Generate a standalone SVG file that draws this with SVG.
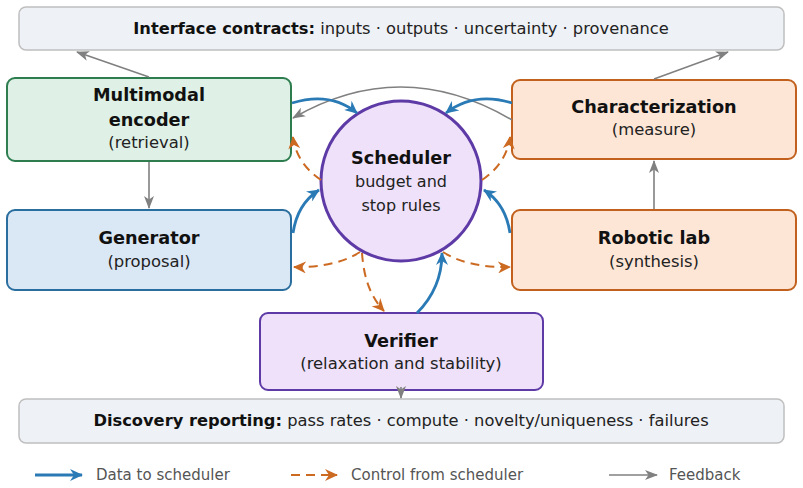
<svg xmlns="http://www.w3.org/2000/svg" width="803" height="488" viewBox="0 0 803 488">
<style>
text{font-family:"DejaVu Sans","Liberation Sans",sans-serif;fill:#111;}
.b{font-weight:bold;font-size:17.7px;}
.r{font-size:16.4px;fill:#222;}
.bb{font-weight:bold;font-size:16.3px;}
.br{font-size:16.3px;fill:#222;}
.bar{fill:#eef1f5;stroke:#bfbfbf;stroke-width:1.5;}
.green{fill:#dff1e6;stroke:#2e7d4f;stroke-width:2;}
.blue{fill:#dae7f4;stroke:#2a6e9f;stroke-width:2;}
.orange{fill:#fde6d6;stroke:#c2611d;stroke-width:2;}
.purple{fill:#eee1f9;stroke:#5e3aa6;stroke-width:2;}
.data{fill:none;stroke:#2a7ab6;stroke-width:2.8;}
.ctrl{fill:none;stroke:#cc6a22;stroke-width:2;stroke-dasharray:9 6;}
.fb{fill:none;stroke:#808080;stroke-width:1.6;}
.leg{font-size:15px;fill:#555;}
</style>
<defs>
<marker id="mData" markerUnits="userSpaceOnUse" markerWidth="14" markerHeight="12" refX="12" refY="6" orient="auto">
<path d="M0,0 L13,6 L0,12 L4,6 z" fill="#2a7ab6"/>
</marker>
<marker id="mCtrl" markerUnits="userSpaceOnUse" markerWidth="14" markerHeight="12" refX="12" refY="6" orient="auto">
<path d="M0,0 L13,6 L0,12 L4,6 z" fill="#cc6a22"/>
</marker>
<marker id="mFb" markerUnits="userSpaceOnUse" markerWidth="14" markerHeight="10" refX="12" refY="5" orient="auto">
<path d="M0,0 L13,5 L0,10 L3.5,5 z" fill="#808080"/>
</marker>
</defs>

<g id="interface-contracts">
<rect class="bar" x="19" y="7" width="765" height="43" rx="7"/>
<text x="401" y="34" text-anchor="middle"><tspan class="bb">Interface contracts:</tspan><tspan class="br"> inputs · outputs · uncertainty · provenance</tspan></text>
</g>

<g id="multimodal-encoder">
<rect class="green" x="7" y="78" width="284" height="83" rx="8"/>
<text class="b" x="149" y="101" text-anchor="middle">Multimodal</text>
<text class="b" x="149" y="126" text-anchor="middle">encoder</text>
<text class="r" x="149" y="148" text-anchor="middle">(retrieval)</text>
</g>

<g id="characterization">
<rect class="orange" x="512" y="80" width="284" height="79" rx="8"/>
<text class="b" x="654" y="113" text-anchor="middle">Characterization</text>
<text class="r" x="654" y="135" text-anchor="middle">(measure)</text>
</g>

<g id="generator">
<rect class="blue" x="7" y="210" width="284" height="80" rx="8"/>
<text class="b" x="149" y="244" text-anchor="middle">Generator</text>
<text class="r" x="149" y="267" text-anchor="middle">(proposal)</text>
</g>

<g id="robotic-lab">
<rect class="orange" x="512" y="210" width="284" height="80" rx="8"/>
<text class="b" x="654" y="244" text-anchor="middle">Robotic lab</text>
<text class="r" x="654" y="267" text-anchor="middle">(synthesis)</text>
</g>

<g id="scheduler">
<circle cx="401" cy="181" r="80" fill="#eee1f9" stroke="#5e3aa6" stroke-width="3"/>
<text class="b" x="401" y="164" text-anchor="middle">Scheduler</text>
<text class="r" x="401" y="187" text-anchor="middle" style="font-size:16px">budget and</text>
<text class="r" x="401" y="211" text-anchor="middle" style="font-size:16px">stop rules</text>
</g>

<g id="verifier">
<rect class="purple" x="260" y="313" width="283" height="77" rx="8"/>
<text class="b" x="401" y="347" text-anchor="middle">Verifier</text>
<text class="r" x="401" y="369" text-anchor="middle">(relaxation and stability)</text>
</g>

<g id="discovery-reporting">
<rect class="bar" x="19" y="399" width="765" height="44" rx="7"/>
<text x="401" y="426" text-anchor="middle"><tspan class="bb">Discovery reporting:</tspan><tspan class="br"> pass rates · compute · novelty/uniqueness · failures</tspan></text>
</g>

<g id="connectors">
<!-- feedback -->
<path class="fb" d="M149,77 L77,52" marker-end="url(#mFb)"/>
<path class="fb" d="M654,79 L728,52" marker-end="url(#mFb)"/>
<path class="fb" d="M149,162 L149,208" marker-end="url(#mFb)"/>
<path class="fb" d="M654,209 L654,161" marker-end="url(#mFb)"/>
<path class="fb" d="M512,120 Q402,55 293,118" marker-end="url(#mFb)"/>
<path class="fb" d="M401,387 L401,398" marker-end="url(#mFb)"/>
<!-- data to scheduler -->
<path class="data" d="M292,103 C318,95 340,99 357,113" marker-end="url(#mData)"/>
<path class="data" d="M512,103 C486,95 464,99 446,113" marker-end="url(#mData)"/>
<path class="data" d="M293,233 C296,213 305,199 319,190" marker-end="url(#mData)"/>
<path class="data" d="M510,233 C507,213 498,199 484,190" marker-end="url(#mData)"/>
<path class="data" d="M417,313 C432,298 442,280 442,253" marker-end="url(#mData)"/>
<!-- control from scheduler -->
<path class="ctrl" d="M321,180 C306,170 295,155 293,137" marker-end="url(#mCtrl)"/>
<path class="ctrl" d="M482,180 C497,170 508,155 510,137" marker-end="url(#mCtrl)"/>
<path class="ctrl" d="M360,252 C345,262 320,268 294,267" marker-end="url(#mCtrl)"/>
<path class="ctrl" d="M443,252 C458,262 483,268 510,267" marker-end="url(#mCtrl)"/>
<path class="ctrl" d="M362,253 C364,280 371,297 384,311" marker-end="url(#mCtrl)"/>
</g>

<g id="legend">
<path class="data" d="M35,475 L82,475" marker-end="url(#mData)"/>
<text class="leg" x="96" y="480">Data to scheduler</text>
<path class="ctrl" d="M291,475 L337,475" marker-end="url(#mCtrl)"/>
<text class="leg" x="351" y="480">Control from scheduler</text>
<path class="fb" d="M609,475 L657,475" marker-end="url(#mFb)"/>
<text class="leg" x="669" y="480">Feedback</text>
</g>
</svg>
